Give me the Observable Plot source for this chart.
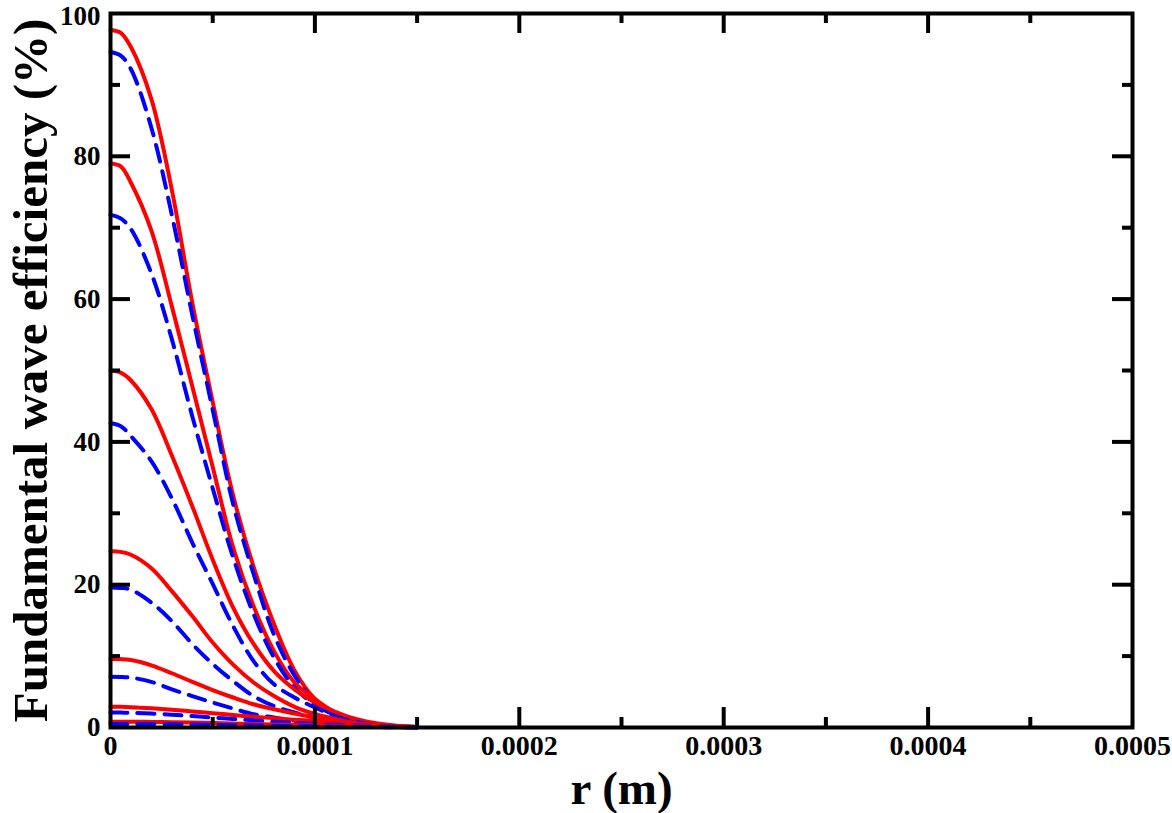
<!DOCTYPE html>
<html>
<head>
<meta charset="utf-8">
<script src="https://cdn.jsdelivr.net/npm/d3@7"></script>
<script src="https://cdn.jsdelivr.net/npm/@observablehq/plot@0.6"></script>
<style>
  html, body { margin: 0; padding: 0; background: #fff; }
  #chart svg { display: block; }
</style>
</head>
<body>
<div id="chart"></div>
<script>
// radius samples (m)
const rValues = [0, 0.000005, 0.00001, 0.00002, 0.00003, 0.00004, 0.00005, 0.00006, 0.00007,
                 0.00008, 0.00009, 0.0001, 0.00011, 0.00012, 0.00013, 0.00014, 0.00015];

// red solid curves (%)
const red1 = [97.7, 97.3, 95.3, 88.0, 75.3, 59.5, 45.6, 32.5, 22.5, 14.5, 8.0, 4.0, 1.9, 0.9, 0.4, 0.15, 0.05];
const red2 = [79.0, 78.6, 76.3, 69.6, 59.0, 47.8, 36.5, 25.2, 17.0, 10.7, 6.3, 4.0, 2.1, 1.0, 0.45, 0.18, 0.06];
const red3 = [50.0, 49.7, 48.6, 44.6, 38.1, 31.0, 23.5, 16.8, 11.7, 7.9, 5.35, 3.5, 2.2, 1.2, 0.6, 0.25, 0.08];
const red4 = [24.7, 24.6, 24.2, 22.3, 19.1, 15.6, 11.9, 8.8, 6.3, 4.4, 2.9, 1.9, 1.2, 0.6, 0.3, 0.12, 0.04];
const red5 = [9.6, 9.58, 9.45, 8.7, 7.6, 6.4, 5.25, 4.2, 3.25, 2.55, 1.95, 1.4, 0.9, 0.5, 0.25, 0.1, 0.03];
const red6 = [2.9, 2.89, 2.85, 2.7, 2.5, 2.25, 2.0, 1.75, 1.5, 1.3, 1.1, 0.9, 0.7, 0.5, 0.35, 0.2, 0.1];
const red7 = [0.8, 0.8, 0.8, 0.78, 0.74, 0.7, 0.63, 0.55, 0.48, 0.42, 0.36, 0.3, 0.24, 0.18, 0.14, 0.1, 0.06];

// blue dashed curves (%)
const blue1 = [94.6, 94.1, 92.2, 84.0, 71.8, 57.8, 44.5, 31.3, 21.5, 13.0, 7.3, 3.6, 1.7, 0.75, 0.35, 0.12, 0.04];
const blue2 = [71.8, 71.3, 69.8, 63.6, 54.4, 43.6, 33.5, 23.8, 15.9, 9.8, 5.6, 3.2, 1.7, 0.8, 0.35, 0.12, 0.04];
const blue3 = [42.6, 42.2, 40.8, 37.3, 32.1, 25.9, 20.1, 14.2, 9.3, 6.05, 4.2, 2.8, 1.6, 0.8, 0.35, 0.12, 0.04];
const blue4 = [19.6, 19.55, 19.3, 17.5, 14.9, 11.7, 8.9, 6.5, 4.4, 3.0, 2.1, 1.4, 0.9, 0.45, 0.2, 0.08, 0.02];
const blue5 = [7.1, 7.08, 6.98, 6.4, 5.35, 4.4, 3.5, 2.65, 1.85, 1.4, 0.95, 0.6, 0.4, 0.22, 0.1, 0.04, 0.01];
const blue6 = [2.1, 2.09, 2.05, 1.95, 1.8, 1.6, 1.4, 1.2, 1.0, 0.8, 0.65, 0.5, 0.38, 0.28, 0.2, 0.12, 0.06];
const blue7 = [0.5, 0.5, 0.5, 0.48, 0.45, 0.42, 0.38, 0.33, 0.28, 0.24, 0.2, 0.16, 0.12, 0.09, 0.06, 0.04, 0.02];

// ticks
const xTickLabels = [0, 0.0001, 0.0002, 0.0003, 0.0004, 0.0005];
const xMajorTicks = [0.0001, 0.0002, 0.0003, 0.0004];
const xMinorTicks = [0.00005, 0.00015, 0.00025, 0.00035, 0.00045];
const yTickLabels = [0, 20, 40, 60, 80];
const yTopLabel = [100];
const yMajorTicks = [20, 40, 60, 80];
const yMinorTicks = [10, 30, 50, 70, 90];

const xTitle = "r (m)";
const yTitle = "Fundamental wave efficiency (%)";

const pairs = [[red1, blue1], [red2, blue2], [red3, blue3], [red4, blue4], [red5, blue5], [red6, blue6], [red7, blue7]];

const W = 1172, H = 813;
const mL = 110, mR = 40, mT = 13, mB = 86;
const plotW = W - mL - mR, plotH = H - mT - mB;
const font = "'Liberation Serif', 'Times New Roman', serif";

const lineMarks = [];
pairs.forEach(([red, blue]) => {
  const redRows = rValues.map((r, i) => ({r, v: red[i]}));
  const blueRows = rValues.map((r, i) => ({r, v: blue[i]}));
  lineMarks.push(Plot.line(redRows, {x: "r", y: "v", stroke: "#ff0000", strokeWidth: 4, curve: "catmull-rom"}));
  lineMarks.push(Plot.line(blueRows, {x: "r", y: "v", stroke: "#0000ff", strokeWidth: 4, strokeDasharray: "17,10", curve: "catmull-rom"}));
});

const labelStyle = {tickSize: 0, fontSize: 27, fontWeight: "bold", fill: "black", label: null};

const chart = Plot.plot({
  width: W,
  height: H,
  marginLeft: mL,
  marginRight: mR,
  marginTop: mT,
  marginBottom: mB,
  style: `font-family: ${font}; font-weight: bold; color: black; background: white;`,
  x: {domain: [0, 0.0005], label: null},
  y: {domain: [0, 100], label: null},
  marks: [
    ...lineMarks,
    // inward ticks (bottom/top/left/right)
    Plot.ruleX(xMajorTicks, {insetTop: plotH - 20, stroke: "black", strokeWidth: 4}),
    Plot.ruleX(xMinorTicks, {insetTop: plotH - 10, stroke: "black", strokeWidth: 4}),
    Plot.ruleX(xMajorTicks, {insetBottom: plotH - 20, stroke: "black", strokeWidth: 4}),
    Plot.ruleX(xMinorTicks, {insetBottom: plotH - 10, stroke: "black", strokeWidth: 4}),
    Plot.ruleY(yMajorTicks, {insetRight: plotW - 20, stroke: "black", strokeWidth: 4}),
    Plot.ruleY(yMinorTicks, {insetRight: plotW - 10, stroke: "black", strokeWidth: 4}),
    Plot.ruleY(yMajorTicks, {insetLeft: plotW - 20, stroke: "black", strokeWidth: 4}),
    Plot.ruleY(yMinorTicks, {insetLeft: plotW - 10, stroke: "black", strokeWidth: 4}),
    Plot.axisX(xTickLabels, {...labelStyle, fontSize: 28, tickPadding: 8,
      tickFormat: d => d === 0 ? "0" : d.toFixed(4)}),
    Plot.axisY(yTickLabels, {...labelStyle, tickPadding: 10, tickFormat: d => String(d)}),
    Plot.axisY(yTopLabel, {...labelStyle, tickPadding: 10, dy: 3, tickFormat: d => String(d)}),
    Plot.frame({stroke: "black", strokeWidth: 4}),
    Plot.text([xTitle], {frameAnchor: "bottom", dy: 76, lineAnchor: "bottom", textAnchor: "middle", fontSize: 47, fontWeight: "bold", fill: "black", text: d => d}),
    Plot.text([yTitle], {frameAnchor: "left", dx: -64, lineAnchor: "bottom", textAnchor: "middle", rotate: -90, fontSize: 49, fontWeight: "bold", fill: "black", text: d => d})
  ]
});
document.getElementById("chart").appendChild(chart);
</script>
</body>
</html>
